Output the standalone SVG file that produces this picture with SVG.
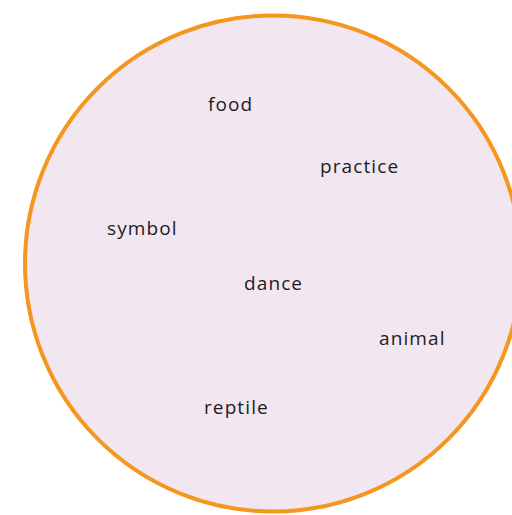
<svg xmlns="http://www.w3.org/2000/svg" width="512" height="515" viewBox="0 0 512 515">
<style>
.w{font-family:"Open Sans","Noto Sans",sans-serif;font-size:19px;fill:#1c1c1c;letter-spacing:1.1px}
</style>
<rect width="512" height="515" fill="#fff"/>
<g id="circle"><circle cx="273" cy="263.5" r="248" fill="#F2E6F0" stroke="#F5961E" stroke-width="4"/></g>
<g id="food"><text class="w" x="208" y="111">food</text></g>
<g id="practice"><text class="w" x="320" y="173">practice</text></g>
<g id="symbol"><text class="w" x="107" y="235">symbol</text></g>
<g id="dance"><text class="w" x="244" y="290">dance</text></g>
<g id="animal"><text class="w" x="379" y="345">animal</text></g>
<g id="reptile"><text class="w" x="204" y="414">reptile</text></g>
<g id="connectors"/>
</svg>
